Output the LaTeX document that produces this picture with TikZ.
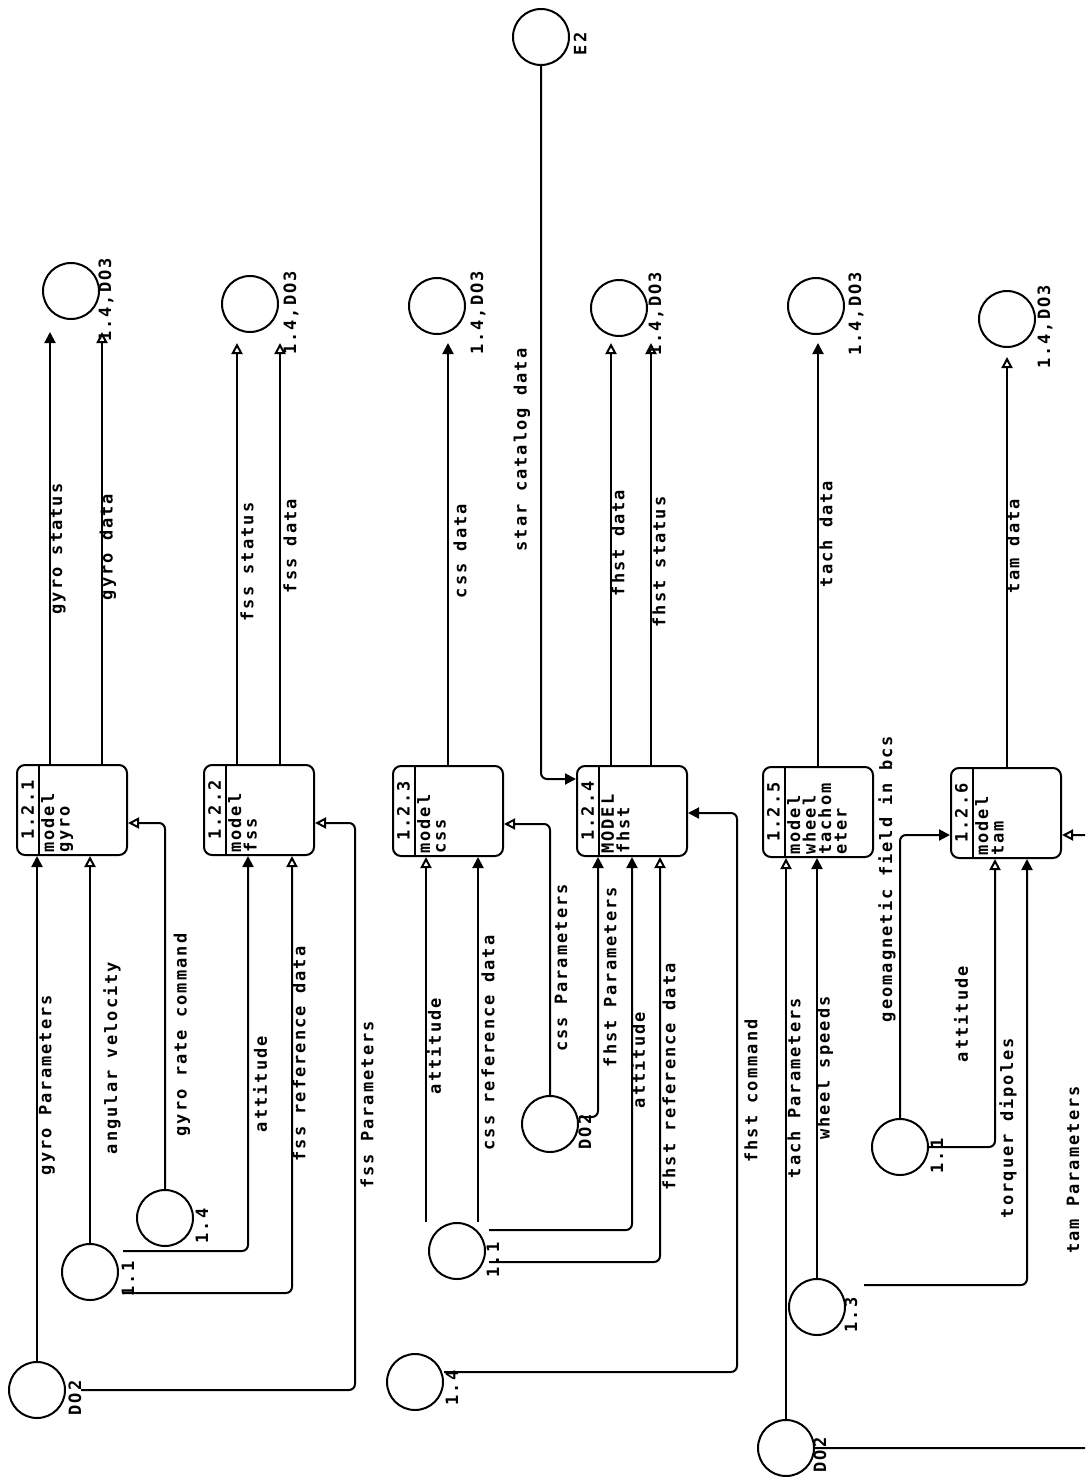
\documentclass[tikz,border=0pt]{standalone}
\usepackage{fontspec}
\newfontfamily\dfd{DejaVu Sans Mono}[LetterSpace=12]
\newcommand\dfdtxt{\dfd\bfseries\fontsize{17pt}{15.5pt}\selectfont}
\usetikzlibrary{arrows.meta,calc}
\tikzset{
  flow/.style={line width=2pt, rounded corners=6pt},
  fa/.style={flow, -{Triangle[width=11pt,length=11pt]}},
  oa/.style={flow, -{Triangle[open,width=11pt,length=11pt]}},
  store/.style={circle, draw, line width=2pt, minimum size=56pt, inner sep=0pt},
  proc/.style={rectangle, draw, line width=2pt, rounded corners=8pt, minimum width=110pt, minimum height=90pt, inner sep=0pt},
  lab/.style={rotate=90, inner sep=0pt, font=\dfdtxt},
  btxt/.style={lab, anchor=north west, align=left},
  divider/.style={line width=2pt}
}
\begin{document}
\begin{tikzpicture}[x=1pt,y=-1pt]
\useasboundingbox (0,0) rectangle (1085,1477);
\clip (0,0) rectangle (1085,1477);

% ---------- processes ----------
\node[proc] (p1) at (72,810) {};
\node[proc] (p2) at (259,810) {};
\node[proc] (p3) at (448,811) {};
\node[proc] (p4) at (632,811) {};
\node[proc] (p5) at (818,812) {};
\node[proc] (p6) at (1006,813) {};
\foreach \p in {p1,p2,p3,p4,p5,p6}
  \draw[divider] ([xshift=23pt]\p.north west) -- ([xshift=23pt]\p.south west);
\node[lab] (p1n) at ([xshift=11.5pt]p1.west) {1.2.1};
\node[lab] (p2n) at ([xshift=11.5pt]p2.west) {1.2.2};
\node[lab] (p3n) at ([xshift=11.5pt]p3.west) {1.2.3};
\node[lab] (p4n) at ([xshift=11.5pt]p4.west) {1.2.4};
\node[lab] (p5n) at ([xshift=11.5pt]p5.west) {1.2.5};
\node[lab] (p6n) at ([xshift=11.5pt]p6.west) {1.2.6};
\node[btxt] (p1t) at ([xshift=25pt,yshift=3pt]p1.south west) {model\\gyro};
\node[btxt] (p2t) at ([xshift=25pt,yshift=3pt]p2.south west) {model\\fss};
\node[btxt] (p3t) at ([xshift=25pt,yshift=3pt]p3.south west) {model\\css};
\node[btxt] (p4t) at ([xshift=25pt,yshift=3pt]p4.south west) {MODEL\\fhst};
\node[btxt] (p5t) at ([xshift=25pt,yshift=3pt]p5.south west) {model\\wheel\\tachom\\eter};
\node[btxt] (p6t) at ([xshift=25pt,yshift=3pt]p6.south west) {model\\tam};

% ---------- stores ----------
\node[store] (s1) at (71,291) {};
\node[store] (s2) at (250,304) {};
\node[store] (s3) at (437,306) {};
\node[store] (s4) at (619,308) {};
\node[store] (s5) at (816,306) {};
\node[store] (s6) at (1007,319) {};
\node[store] (e2) at (541,37) {};
\node[store] (d1) at (37,1390) {};
\node[store] (c11a) at (90,1272) {};
\node[store] (c14a) at (165,1218) {};
\node[store] (c11b) at (457,1251) {};
\node[store] (d2) at (550,1124) {};
\node[store] (c14b) at (415,1382) {};
\node[store] (c11c) at (900,1147) {};
\node[store] (c13) at (817,1307) {};
\node[store] (d3) at (786,1448) {};

% store labels
\node[lab] (s1l) at (106,300) {1.4,DO3};
\node[lab] (s2l) at (291,313) {1.4,DO3};
\node[lab] (s3l) at (478,313) {1.4,DO3};
\node[lab] (s4l) at (656,314) {1.4,DO3};
\node[lab] (s5l) at (856,314) {1.4,DO3};
\node[lab] (s6l) at (1045,327) {1.4,DO3};
\node[lab] (e2l) at (580,44) {E2};
\node[lab] (d1l) at (75,1398) {DO2};
\node[lab] (d2l) at (585,1132) {DO2};
\node[lab] (d3l) at (820,1455) {DO2};
\node[lab] (c11al) at (128,1279) {1.1};
\node[lab] (c14al) at (202,1226) {1.4};
\node[lab] (c11bl) at (493,1260) {1.1};
\node[lab] (c14bl) at (452,1388) {1.4};
\node[lab] (c11cl) at (937,1156) {1.1};
\node[lab] (c13l) at (851,1315) {1.3};

% ---------- outputs ----------
\draw[fa, shorten >=12pt] (50,0 |- p1.north) -- (50,0 |- s1.south);
\draw[oa, shorten >=12pt] (102,0 |- p1.north) -- (102,0 |- s1.south);
\draw[oa, shorten >=10pt] (237,0 |- p2.north) -- (237,0 |- s2.south);
\draw[oa, shorten >=10pt] (280,0 |- p2.north) -- (280,0 |- s2.south);
\draw[fa, shorten >=8pt] (448,0 |- p3.north) -- (448,0 |- s3.south);
\draw[oa, shorten >=6pt] (611,0 |- p4.north) -- (611,0 |- s4.south);
\draw[oa, shorten >=6pt] (651,0 |- p4.north) -- (651,0 |- s4.south);
\draw[fa, shorten >=8pt] (818,0 |- p5.north) -- (818,0 |- s5.south);
\draw[oa, shorten >=9pt] (1007,0 |- p6.north) -- (1007,0 |- s6.south);
\draw[fa] (e2.south) |- ([yshift=32pt]p4.west);

\node[lab] (l1) at (58,549) {gyro status};
\node[lab] (l2) at (108,547) {gyro data};
\node[lab] (l3) at (247,562) {fss status};
\node[lab] (l4) at (290,546) {fss data};
\node[lab] (l5) at (460,551) {css data};
\node[lab] (l6) at (522,450) {star catalog data};
\node[lab] (l7) at (618,543) {fhst data};
\node[lab] (l8) at (659,562) {fhst status};
\node[lab] (l9) at (826,534) {tach data};
\node[lab] (l10) at (1013,546) {tam data};

% ---------- inputs: gyro ----------
\draw[fa] (d1.north) -- (d1.north |- p1.south);
\draw[oa] (c11a.north) -- (c11a.north |- p1.south);
\draw[oa] (c14a.north) |- ([yshift=-13pt]p1.east);
% fss
\draw[fa] ([xshift=4pt,yshift=21pt]c11a.east) -| (248,0 |- p2.south);
\draw[oa] ([xshift=4pt,yshift=-21pt]c11a.east) -| (292,0 |- p2.south);
\draw[oa] ([xshift=15pt]d1.east) -| ([xshift=40pt,yshift=-13pt]p2.east) -- ([yshift=-13pt]p2.east);
% css
\draw[oa] (426,0 |- c11b.north) -- (426,0 |- p3.south);
\draw[fa] (478,0 |- c11b.north) -- (478,0 |- p3.south);
\draw[oa] (d2.north) |- ([yshift=-13pt]p3.east);
% fhst
\draw[fa] ([yshift=7pt]d2.east) -| (598,0 |- p4.south);
\draw[fa] ([xshift=3pt,yshift=21pt]c11b.east) -| (632,0 |- p4.south);
\draw[oa] ([xshift=3pt,yshift=-11pt]c11b.east) -| (660,0 |- p4.south);
\draw[fa] ([yshift=10pt]c14b.east) -| ([xshift=49pt,yshift=-2pt]p4.east) -- ([yshift=-2pt]p4.east);
% tach
\draw[oa] (d3.north) -- (d3.north |- p5.south);
\draw[fa] (c13.north) -- (c13.north |- p5.south);
% tam
\draw[fa] (c11c.north) |- ([yshift=-22pt]p6.west);
\draw[oa] (c11c.east) -| (995,0 |- p6.south);
\draw[fa] ([xshift=18pt,yshift=22pt]c13.east) -| (1027,0 |- p6.south);
\draw[oa] (d3.east) -| ([xshift=39pt,yshift=-22pt]p6.east) -- ([yshift=-22pt]p6.east);

% input labels
\node[lab] (i1) at (47,1085) {gyro Parameters};
\node[lab] (i2) at (112,1058) {angular velocity};
\node[lab] (i3) at (182,1035) {gyro rate command};
\node[lab] (i4) at (260,1084) {attitude};
\node[lab] (i5) at (299,1054) {fss reference data};
\node[lab] (i6) at (367,1105) {fss Parameters};
\node[lab] (i7) at (434,1046) {attitude};
\node[lab] (i8) at (488,1043) {css reference data};
\node[lab] (i9) at (561,968) {css Parameters};
\node[lab] (i10) at (610,977) {fhst Parameters};
\node[lab] (i11) at (638,1060) {attitude};
\node[lab] (i12) at (669,1077) {fhst reference data};
\node[lab] (i13) at (751,1091) {fhst command};
\node[lab] (i14) at (794,1088) {tach Parameters};
\node[lab] (i15) at (825,1068) {wheel speeds};
\node[lab] (i16) at (887,879) {geomagnetic field in bcs};
\node[lab] (i17) at (961,1014) {attitude};
\node[lab] (i18) at (1008,1128) {torquer dipoles};
\node[lab] (i19) at (1073,1170) {tam Parameters};
\end{tikzpicture}
\end{document}
